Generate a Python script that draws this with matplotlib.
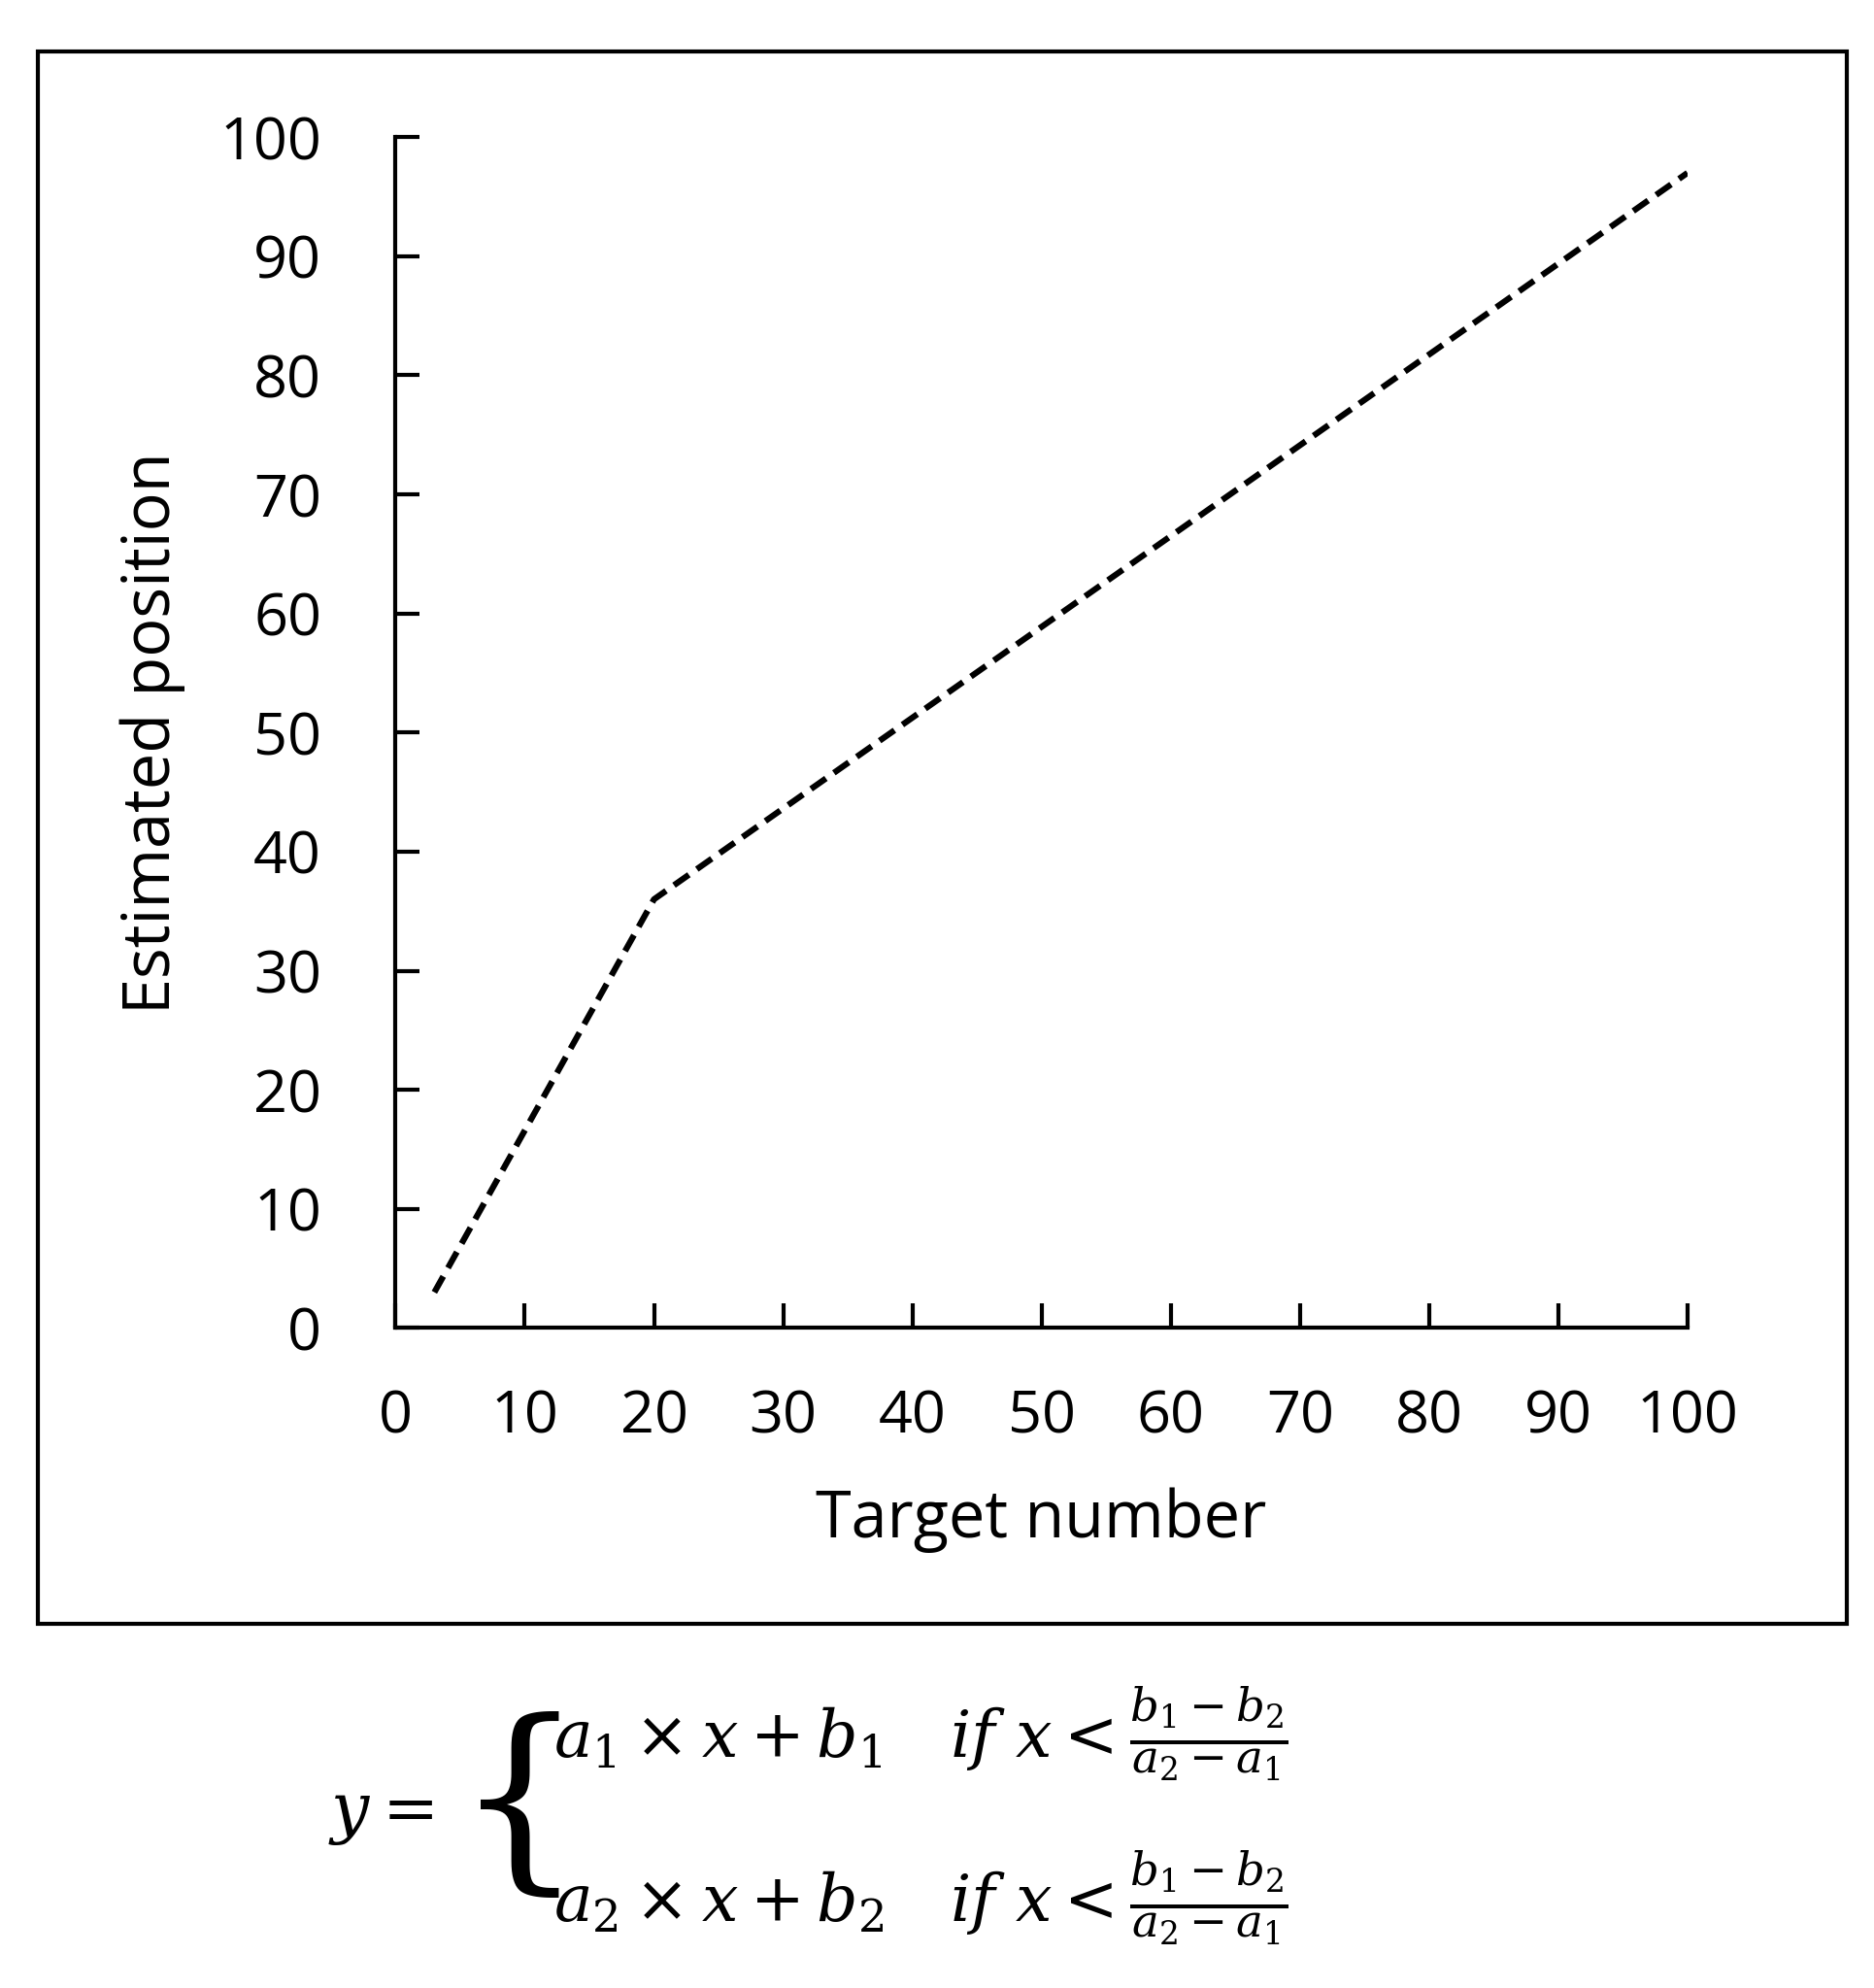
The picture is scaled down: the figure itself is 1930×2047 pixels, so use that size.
import matplotlib.pyplot as plt
from matplotlib.patches import Rectangle

# piecewise estimate line
target = [3, 20, 100]
estimate = [3, 36, 97]
xticks = list(range(0, 101, 10))
yticks = list(range(0, 101, 10))

plt.rcParams['font.family'] = ['Open Sans', 'DejaVu Sans']
plt.rcParams['mathtext.fontset'] = 'dejavuserif'

fig = plt.figure(figsize=(19.31, 20.47), dpi=100)
fig.patches.append(Rectangle((0.020, 0.183), 0.965, 0.791, transform=fig.transFigure,
                             fill=False, edgecolor='black', linewidth=3))

ax = fig.add_axes([0.211, 0.332, 0.689, 0.599])
ax.plot(target, estimate, color='black', linestyle=(0, (3, 1.6)), linewidth=4.5)
ax.set_xlim(0, 100)
ax.set_ylim(0, 100)
ax.set_xticks(xticks)
ax.set_yticks(yticks)
ax.spines['top'].set_visible(False)
ax.spines['right'].set_visible(False)
for s in ('left', 'bottom'):
    ax.spines[s].set_linewidth(3)
ax.tick_params(axis='both', direction='in', length=18, width=3, labelsize=44)
ax.tick_params(axis='x', pad=45)
ax.tick_params(axis='y', pad=55)
ax.set_xlabel('Target number', fontsize=48, labelpad=30)
ax.set_ylabel('Estimated position', fontsize=48, labelpad=25)

# formula under the chart
fig.text(0.175, 0.088, r'$y =$', fontsize=50, ha='left', va='center')
fig.text(0.243, 0.090, '{', fontsize=150, family='DejaVu Serif', ha='left', va='center',
         fontweight='light')
fig.text(0.295, 0.128, r'$a_1 \times x + b_1 \quad if\ x < \frac{b_1 - b_2}{a_2 - a_1}$',
         fontsize=48, ha='left', va='center')
fig.text(0.295, 0.045, r'$a_2 \times x + b_2 \quad if\ x < \frac{b_1 - b_2}{a_2 - a_1}$',
         fontsize=48, ha='left', va='center')

fig.savefig('out.png', dpi=100)
